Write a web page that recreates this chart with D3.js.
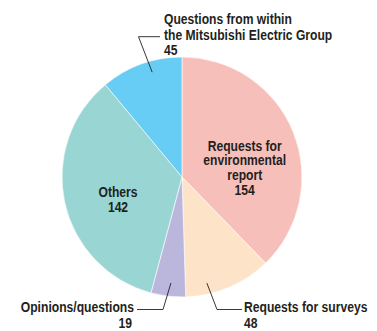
<!DOCTYPE html>
<html><head><meta charset="utf-8">
<script src="https://cdn.jsdelivr.net/npm/d3@7"></script>
<style>
html,body{margin:0;padding:0;background:#fff;}
text{font-family:"Liberation Sans",Arial,sans-serif;font-weight:bold;fill:#231f20;font-size:14.6px;}
text.bottom{font-size:14.2px;}
</style></head>
<body><svg id="c" width="377" height="331"></svg>
<script>
const categories = ["Requests for environmental report","Requests for surveys","Opinions/questions","Others","Questions from within the Mitsubishi Electric Group"];
const values = [154, 48, 19, 142, 45];
const colors = ["#f7bfba","#fde3c8","#bbb6db","#99d6d3","#68cdf4"];

const svg = d3.select("#c");
const cx = 182, cy = 177, R = 120;
const g = svg.append("g").attr("transform", `translate(${cx},${cy})`);
const pie = d3.pie().sort(null).value(d => d)(values);
const arc = d3.arc().innerRadius(0).outerRadius(R);
g.selectAll("path").data(pie).join("path")
  .attr("d", arc).attr("fill", (d,i) => colors[i])
  .attr("stroke", "#fff").attr("stroke-width", 0.6);

// labels (condensed look via horizontal scale)
function lines(x, y, arr, anchor, lh, cls, k) {
  const c = k || 0.83;
  const t = svg.append("text").attr("text-anchor", anchor).attr("class", cls || null)
    .attr("transform", `translate(${x},${y}) scale(${c},1)`);
  arr.forEach((s, j) => t.append("tspan").attr("x", 0).attr("y", j * lh).text(s));
}
lines(cx + 62.7, 150.5, ["Requests for", "environmental", "report", String(values[0])], "middle", 15);
lines(cx - 64, 197, ["Others", String(values[3])], "middle", 15);
lines(164, 24.3, ["Questions from within", "the Mitsubishi Electric Group", String(values[4])], "start", 15.4);
lines(134, 312.2, ["Opinions/questions"], "end", 15, "bottom", 0.855);
lines(132, 328, [String(values[2])], "end", 15, "bottom", 0.855);
lines(244, 312.2, ["Requests for surveys"], "start", 15, "bottom", 0.855);
lines(244, 328, [String(values[1])], "start", 15, "bottom", 0.855);

// leader lines from slice points
const leader = d3.line();
function pt(i, frac, r) {
  const a = pie[i].startAngle + (pie[i].endAngle - pie[i].startAngle) * frac;
  return [cx + r * Math.sin(a), cy - r * Math.cos(a)];
}
const L = [
  [pt(4, 0.6, 109), [138.5, 36.7], [160, 36.7]],
  [pt(2, 0.46, 106.5), [163, 309.5], [137, 309.5]],
  [pt(1, 0.73, 109), [217, 309.5], [242, 309.5]]
];
svg.selectAll("path.ld").data(L).join("path").attr("class","ld")
  .attr("d", leader).attr("fill","none").attr("stroke","#231f20").attr("stroke-width",0.9);
</script></body></html>
